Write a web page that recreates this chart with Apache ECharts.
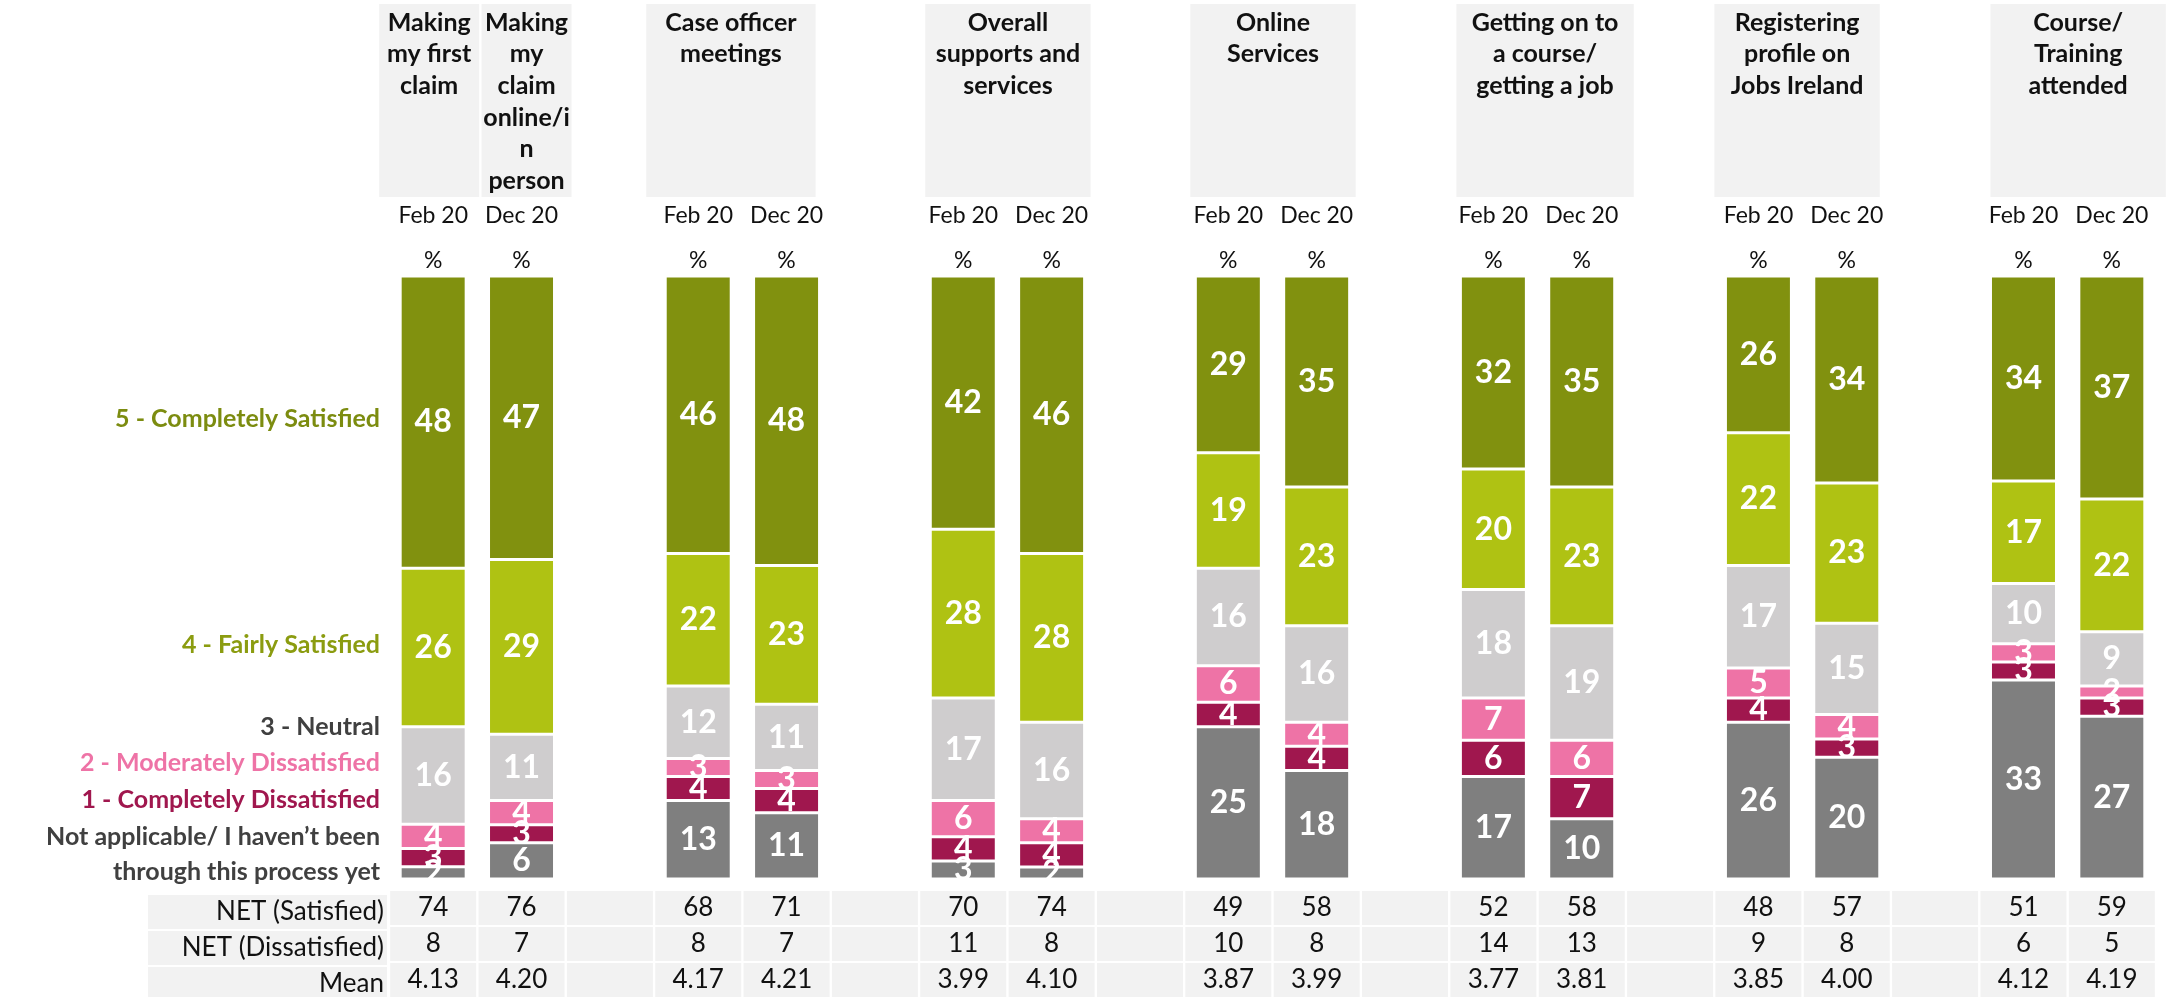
<!DOCTYPE html>
<html><head><meta charset="utf-8">
<script src="https://cdn.jsdelivr.net/npm/echarts/dist/echarts.min.js"></script>
<style>html,body{margin:0;padding:0;background:#fff}#c{width:2166px;height:997px}</style>
</head><body><div id="c"></div>
<script>
// ---------- DATA ----------
const groupHeaders = [
  ['Making\nmy first\nclaim', 'Making\nmy\nclaim\nonline/i\nn\nperson'],
  ['Case officer\nmeetings'],
  ['Overall\nsupports and\nservices'],
  ['Online\nServices'],
  ['Getting on to\na course/\ngetting a job'],
  ['Registering\nprofile on\nJobs Ireland'],
  ['Course/\nTraining\nattended']
];
const periods = ['Feb 20', 'Dec 20'];
// values per bar: [group0 Feb, group0 Dec, group1 Feb, group1 Dec, ...]
const completelySatisfied    = [48, 47, 46, 48, 42, 46, 29, 35, 32, 35, 26, 34, 34, 37];
const fairlySatisfied        = [26, 29, 22, 23, 28, 28, 19, 23, 20, 23, 22, 23, 17, 22];
const neutral                = [16, 11, 12, 11, 17, 16, 16, 16, 18, 19, 17, 15, 10, 9];
const moderatelyDissatisfied = [4, 4, 3, 3, 6, 4, 6, 4, 7, 6, 5, 4, 3, 2];
const completelyDissatisfied = [3, 3, 4, 4, 4, 4, 4, 4, 6, 7, 4, 3, 3, 3];
const notApplicable          = [2, 6, 13, 11, 3, 2, 25, 18, 17, 10, 26, 20, 33, 27];
const tableRowLabels = ['NET (Satisfied)', 'NET (Dissatisfied)', 'Mean'];
const netSatisfied    = [74, 76, 68, 71, 70, 74, 49, 58, 52, 58, 48, 57, 51, 59];
const netDissatisfied = [8, 7, 8, 7, 11, 8, 10, 8, 14, 13, 9, 8, 6, 5];
const meanScore       = ['4.13', '4.20', '4.17', '4.21', '3.99', '4.10', '3.87', '3.99', '3.77', '3.81', '3.85', '4.00', '4.12', '4.19'];
const legendLabels = ['5 - Completely Satisfied', '4 - Fairly Satisfied', '3 - Neutral', '2 - Moderately Dissatisfied', '1 - Completely Dissatisfied', 'Not applicable/ I haven\u2019t been\nthrough this process yet'];

// ---------- STYLE / LAYOUT ----------
const FONT = 'Lato, "Open Sans", sans-serif';
const seriesStyle = [
  { values: notApplicable,          color: '#7f7f7f', name: legendLabels[5] },
  { values: completelyDissatisfied, color: '#a0174e', name: legendLabels[4] },
  { values: moderatelyDissatisfied, color: '#ee73a6', name: legendLabels[3] },
  { values: neutral,                color: '#cfcdce', name: legendLabels[2] },
  { values: fairlySatisfied,        color: '#afc213', name: legendLabels[1] },
  { values: completelySatisfied,    color: '#81910f', name: legendLabels[0] }
];
const legendStyle = [
  { color: '#7c8c10', y: 419 },
  { color: '#8b9c10', y: 645 },
  { color: '#404040', y: 727 },
  { color: '#ee73a6', y: 763 },
  { color: '#a0174e', y: 800 },
  { color: '#404040', y: 854 }
];
// header box offsets relative to slot centers
const headerBoxOffsets = [[-54, 46], [-40, 50], [-52, 29], [-38, 39], [-38, 39], [-37, 52], [-44, 33], [-33, 54]];

// ---------- build slots ----------
const slots = [];      // category ids
const slotBar = [];    // bar index or -1
groupHeaders.forEach((g, gi) => {
  periods.forEach((p, pi) => { slots.push('g' + gi + '_' + pi); slotBar.push(gi * 2 + pi); });
  if (gi < groupHeaders.length - 1) { slots.push('gap' + gi); slotBar.push(-1); }
});
const totals = completelySatisfied.map((_, i) => seriesStyle.reduce((s, d) => s + d.values[i], 0));

const series = seriesStyle.map(d => ({
  name: d.name,
  type: 'bar',
  stack: 'all',
  barWidth: 66,
  xAxisIndex: 0,
  yAxisIndex: 0,
  itemStyle: { color: d.color, borderColor: '#ffffff', borderWidth: 1.5 },
  label: {
    show: true, position: 'inside', color: '#ffffff', fontFamily: FONT,
    fontSize: 32, fontWeight: 'bold',
    formatter: p => p.data && p.data.raw != null ? String(p.data.raw) : ''
  },
  data: slotBar.map(b => b < 0 ? { value: '-' } : { value: d.values[b] / totals[b] * 100, raw: d.values[b] })
}));

const baseAxis = {
  type: 'category', data: slots, gridIndex: 0,
  axisLine: { show: false }, axisTick: { show: false }, splitLine: { show: false }
};
function tableAxis(arr, offset) {
  return Object.assign({}, baseAxis, {
    position: 'bottom', offset: offset,
    axisLabel: {
      interval: 0, margin: 12, fontFamily: FONT, fontSize: 26, color: '#111',
      backgroundColor: '#f2f2f2', width: 86, height: 34, lineHeight: 34, align: 'center',
      formatter: (v, i) => slotBar[i] < 0 ? ' ' : String(arr[slotBar[i]])
    }
  });
}

const chart = echarts.init(document.getElementById('c'), null, { renderer: 'canvas' });
chart.setOption({
  animation: false,
  backgroundColor: '#ffffff',
  grid: { left: 389, right: 10, top: 276, bottom: 114, containLabel: false },
  xAxis: [
    Object.assign({}, baseAxis, {
      position: 'top', offset: 0,
      axisLabel: { interval: 0, margin: 3, fontFamily: FONT, fontSize: 23, color: '#111', lineHeight: 24,
        formatter: (v, i) => slotBar[i] < 0 ? '' : '%' }
    }),
    Object.assign({}, baseAxis, {
      position: 'top', offset: 45,
      axisLabel: { interval: 0, margin: 3, fontFamily: FONT, fontSize: 23, color: '#111', lineHeight: 24,
        formatter: (v, i) => slotBar[i] < 0 ? '' : periods[slotBar[i] % 2] }
    }),
    tableAxis(netSatisfied, 0),
    tableAxis(netDissatisfied, 36),
    tableAxis(meanScore, 72)
  ],
  yAxis: { type: 'value', min: 0, max: 100, show: false, gridIndex: 0 },
  series: series
});

// ---------- graphics: header boxes, legend labels, table row labels ----------
const px = id => chart.convertToPixel({ xAxisIndex: 0 }, id);
const graphics = [];
const headerEntries = [];
groupHeaders.forEach((g, gi) => {
  const feb = px(slots[slotBar.indexOf(gi * 2)]);
  const dec = px(slots[slotBar.indexOf(gi * 2 + 1)]);
  if (g.length === 2) {
    headerEntries.push({ text: g[0], l: feb, r: feb });
    headerEntries.push({ text: g[1], l: dec, r: dec });
  } else {
    headerEntries.push({ text: g[0], l: feb, r: dec });
  }
});
headerEntries.forEach((h, k) => {
  const off = headerBoxOffsets[k];
  const x0 = h.l + off[0], x1 = h.r + off[1];
  graphics.push({ type: 'rect', shape: { x: x0, y: 4, width: x1 - x0, height: 193 }, style: { fill: '#f2f2f2' }, silent: true });
  graphics.push({ type: 'text', x: (x0 + x1) / 2, y: 7, silent: true,
    style: { text: h.text, fill: '#111', font: 'bold 25px ' + FONT, align: 'center', verticalAlign: 'top', lineHeight: 31.6 } });
});
legendLabels.forEach((t, i) => {
  graphics.push({ type: 'text', x: 380, y: legendStyle[i].y, silent: true,
    style: { text: t, fill: legendStyle[i].color, font: 'bold 25px ' + FONT, align: 'right', verticalAlign: 'middle', lineHeight: 35 } });
});
tableRowLabels.forEach((t, i) => {
  const y = 895 + i * 36;
  graphics.push({ type: 'rect', shape: { x: 148, y: y, width: 239, height: 34 }, style: { fill: '#f2f2f2' }, silent: true });
  graphics.push({ type: 'text', x: 384, y: y + 17, silent: true,
    style: { text: t, fill: '#111', font: '26px ' + FONT, align: 'right', verticalAlign: 'middle' } });
});
chart.setOption({ graphic: graphics });
</script></body></html>
